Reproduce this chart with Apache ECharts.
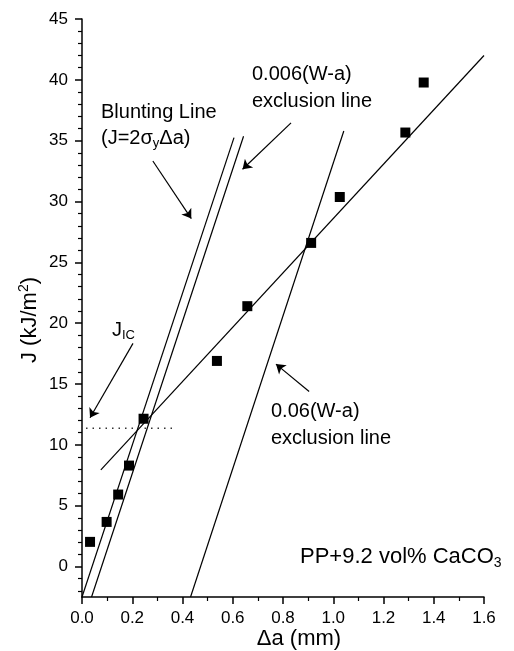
<!DOCTYPE html>
<html>
<head>
<meta charset="utf-8">
<script src="https://cdn.jsdelivr.net/npm/echarts@6/dist/echarts.min.js"></script>
<style>
html,body{margin:0;padding:0;background:#fff;}
#c{width:514px;height:651px;}
</style>
</head>
<body>
<div id="c"></div>
<script>
// ---- data ----
const deltaA = [0.032, 0.098, 0.144, 0.187, 0.245, 0.537, 0.658, 0.912, 1.026, 1.287, 1.360];
const jValues = [2.03, 3.67, 5.92, 8.3, 12.15, 16.9, 21.4, 26.6, 30.37, 35.67, 39.78];

const regressionLine = [[0.075, 7.95], [1.6, 42.0]];
const bluntingLine = [[0.0, -2.5], [0.605, 35.25]];
const exclusion006Line = [[0.038, -2.5], [0.643, 35.36]];
const exclusion06Line = [[0.432, -2.5], [1.042, 35.8]];
const jicLine = [[0.016, 11.37], [0.371, 11.37]];

const arrowJic = [[0.203, 18.34], [0.032, 12.23]];
const arrowBlunting = [[0.282, 33.33], [0.435, 28.6]];
const arrow006 = [[0.832, 36.46], [0.639, 32.65]];
const arrow06 = [[0.904, 14.39], [0.772, 16.64]];

const yTickLabels = [0, 5, 10, 15, 20, 25, 30, 35, 40, 45];
const yMinorTicks = [-2, -1, 1, 2, 3, 4, 6, 7, 8, 9, 11, 12, 13, 14, 16, 17, 18, 19, 21, 22, 23, 24,
  26, 27, 28, 29, 31, 32, 33, 34, 36, 37, 38, 39, 41, 42, 43, 44];

// ---- chart ----
const FONT = '"Liberation Sans", Arial, sans-serif';
const K = '#000';
const chart = echarts.init(document.getElementById('c'), null, {renderer: 'canvas'});

const lineSeries = (data) => ({
  type: 'line', data: data, symbol: 'none', silent: true, z: 3,
  lineStyle: {color: K, width: 1.2}, xAxisIndex: 0, yAxisIndex: 0
});

const sub = {fontSize: 13, fontFamily: FONT, color: K, verticalAlign: 'bottom', lineHeight: 10};
const norm = {fontSize: 20, fontFamily: FONT, color: K, lineHeight: 24};

function txt(x, y, text, rich, align) {
  return {
    type: 'text', x: x, y: y, silent: true,
    style: {text: text, rich: rich, fill: K, font: '20px ' + FONT, textAlign: align || 'left', textVerticalAlign: 'middle'}
  };
}

const option = {
  animation: false,
  backgroundColor: '#fff',
  grid: {left: 82, right: 30, top: 19, bottom: 54, containLabel: false},
  xAxis: {
    type: 'value', min: 0, max: 1.6, interval: 0.2,
    axisLine: {show: true, onZero: false, lineStyle: {color: K, width: 1.5}},
    axisTick: {show: true, inside: false, length: 7, lineStyle: {color: K, width: 1.5}},
    minorTick: {show: true, splitNumber: 2, length: 4, lineStyle: {color: K, width: 1.2}},
    axisLabel: {color: K, fontSize: 17, fontFamily: FONT, margin: 13, formatter: v => v.toFixed(1)},
    splitLine: {show: false}, minorSplitLine: {show: false}
  },
  yAxis: [
    {
      type: 'value', min: -2.5, max: 45, minInterval: 5, maxInterval: 5,
      axisLine: {show: true, onZero: false, lineStyle: {color: K, width: 1.5}},
      axisTick: {show: true, inside: false, length: 7, customValues: yTickLabels, lineStyle: {color: K, width: 1.5}},
      axisLabel: {color: K, fontSize: 17, fontFamily: FONT, margin: 14, customValues: yTickLabels},
      splitLine: {show: false}
    },
    {
      type: 'value', min: -2.5, max: 45, position: 'left', offset: 0,
      axisLine: {show: false, onZero: false},
      axisTick: {show: true, inside: false, length: 4, customValues: yMinorTicks, lineStyle: {color: K, width: 1.2}},
      axisLabel: {show: false},
      splitLine: {show: false}
    }
  ],
  series: [
    lineSeries(regressionLine),
    lineSeries(bluntingLine),
    lineSeries(exclusion006Line),
    lineSeries(exclusion06Line),
    {
      type: 'line', data: jicLine, symbol: 'none', silent: true, z: 3,
      lineStyle: {color: '#333', width: 1.5, type: [1.5, 5]}
    },
    {
      type: 'lines', coordinateSystem: 'cartesian2d', xAxisIndex: 0, yAxisIndex: 0,
      symbol: ['none', 'arrow'], symbolSize: 9, silent: true, z: 4,
      lineStyle: {color: K, width: 1.2, opacity: 1, curveness: 0},
      data: [arrowJic, arrowBlunting, arrow006, arrow06].map(c => ({coords: c}))
    },
    {
      type: 'scatter', symbol: 'rect', symbolSize: 10, z: 5,
      itemStyle: {color: K, opacity: 1},
      data: deltaA.map((x, i) => [x, jValues[i]])
    }
  ],
  graphic: [
    txt(101, 112, '{n|Blunting Line}', {n: norm}),
    txt(101, 138, '{n|(J=2σ}{s|y}{n|Δa)}', {n: norm, s: sub}),
    txt(252, 74, '{n|0.006(W-a)}', {n: norm}),
    txt(252, 101, '{n|exclusion line}', {n: norm}),
    txt(271, 411, '{n|0.06(W-a)}', {n: norm}),
    txt(271, 438, '{n|exclusion line}', {n: norm}),
    txt(112, 330, '{n|J}{s|IC}', {n: norm, s: sub}),
    txt(300, 557, '{p|PP+9.2 vol% CaCO}{q|3}', {
      p: {fontSize: 22, fontFamily: FONT, color: K, lineHeight: 26},
      q: {fontSize: 14, fontFamily: FONT, color: K, verticalAlign: 'bottom', lineHeight: 10}
    }),
    txt(299, 639, '{n|Δa (mm)}', {n: {fontSize: 22, fontFamily: FONT, color: K, lineHeight: 26}}, 'center'),
    {
      type: 'text', x: 30, y: 320, rotation: Math.PI / 2, silent: true,
      style: {
        text: '{n|J (kJ/m}{t|2}{n|)}', fill: K, textAlign: 'center', textVerticalAlign: 'middle',
        rich: {
          n: {fontSize: 22, fontFamily: FONT, color: K, lineHeight: 26},
          t: {fontSize: 14, fontFamily: FONT, color: K, verticalAlign: 'top', lineHeight: 14}
        }
      }
    }
  ]
};
chart.setOption(option);
</script>
</body>
</html>
